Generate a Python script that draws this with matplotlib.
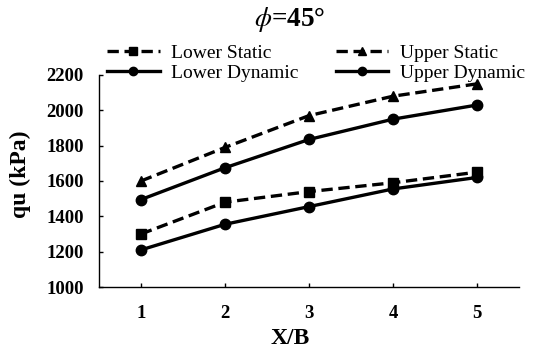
import numpy as np
import matplotlib
matplotlib.use('Agg')
import matplotlib.pyplot as plt

plt.rcParams['font.family'] = ['Liberation Serif', 'DejaVu Serif']
plt.rcParams['mathtext.fontset'] = 'stix'

# data
xb = [1, 2, 3, 4, 5]
lower_static = [1300, 1480, 1540, 1590, 1650]
upper_static = [1600, 1790, 1970, 2080, 2150]
lower_dynamic = [1210, 1355, 1455, 1555, 1620]
upper_dynamic = [1495, 1675, 1835, 1950, 2030]

fig = plt.figure(figsize=(5.36, 3.5), dpi=100)
ax = fig.add_axes([99/536, 1 - 287/350, 420/536, 212/350])

lw = 2.4
dash = (3.4, 1.7)
ax.plot(xb, lower_static, color='black', lw=lw, ls='--', dashes=dash,
        marker='s', ms=7, label='Lower Static')
ax.plot(xb, lower_dynamic, color='black', lw=lw, ls='-',
        marker='o', ms=7.5, label='Lower Dynamic')
ax.plot(xb, upper_static, color='black', lw=lw, ls='--', dashes=dash,
        marker='^', ms=7.5, label='Upper Static')
ax.plot(xb, upper_dynamic, color='black', lw=lw, ls='-',
        marker='o', ms=7.5, label='Upper Dynamic')

ax.set_xlim(0.5, 5.5)
ax.set_ylim(1000, 2200)
ax.set_xticks(xb)
ax.set_yticks(np.arange(1000, 2201, 200))
ax.spines['top'].set_visible(False)
ax.spines['right'].set_visible(False)
for s in ['left', 'bottom']:
    ax.spines[s].set_linewidth(1.0)
ax.tick_params(direction='in', length=3, width=1.0, labelsize=13.5)
ax.tick_params(axis='x', pad=13)
ax.tick_params(axis='y', pad=11)
for lab in ax.get_xticklabels() + ax.get_yticklabels():
    lab.set_fontweight('bold')

ax.set_xlabel('X/B', fontsize=17, fontweight='bold')
ax.set_ylabel('qu (kPa)', fontsize=17, fontweight='bold')
ax.xaxis.set_label_coords(290/536, 1 - 328/350, transform=fig.transFigure)
ax.yaxis.set_label_coords(31/536, 1 - 174/350, transform=fig.transFigure)

fig.text(290/536, 1 - 20/350, r'$\phi$=45°', fontsize=19.5, fontweight='bold',
         ha='center', va='center')

leg = ax.legend(loc='center left', bbox_to_anchor=(107/536, 1 - 63/350),
                bbox_transform=fig.transFigure, ncol=2, frameon=False,
                fontsize=14, handlelength=2.7, handletextpad=0.6,
                columnspacing=1.9, labelspacing=0.1, borderaxespad=0,
                borderpad=0, markerscale=0.8)

fig.savefig('out.png', dpi=100)
